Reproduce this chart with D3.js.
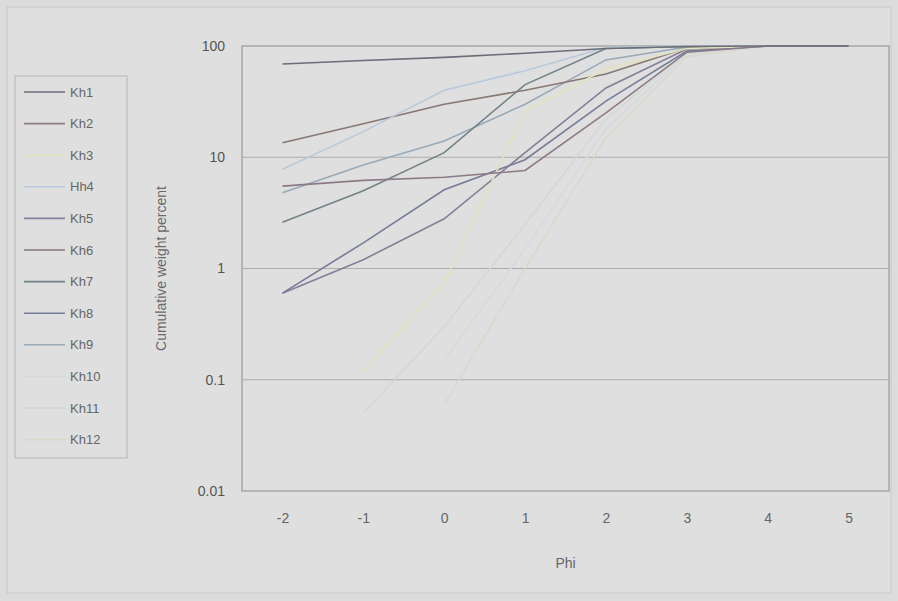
<!DOCTYPE html>
<html>
<head>
<meta charset="utf-8">
<script src="https://cdn.jsdelivr.net/npm/d3@7"></script>
<style>
  body { margin: 0; background: #dcdcdc; }
  text { font-family: "Liberation Sans", Arial, sans-serif; }
</style>
</head>
<body>
<div id="chart"></div>
<script>
/* Data */
var phi = ["-2", "-1", "0", "1", "2", "3", "4", "5"];
var yTicks = [0.01, 0.1, 1, 10, 100];
var yTickLabels = ["0.01", "0.1", "1", "10", "100"];
var names = ["Kh1", "Kh2", "Kh3", "Hh4", "Kh5", "Kh6", "Kh7", "Kh8", "Kh9", "Kh10", "Kh11", "Kh12"];

var kh1  = [69, 74, 79, 86, 95, 99, 100, 100];
var kh2  = [5.5, 6.2, 6.6, 7.6, 25, 88, 100, 100];
var kh3  = [null, 0.12, 0.75, 26, 62, 95, 100, 100];
var hh4  = [7.8, 17, 40, 60, 97, 100, 100, 100];
var kh5  = [0.6, 1.2, 2.8, 11, 42, 94, 100, 100];
var kh6  = [13.5, 20, 30, 40, 56, 96, 100, 100];
var kh7  = [2.6, 5, 11, 45, 95, 99, 100, 100];
var kh8  = [0.6, 1.7, 5.1, 9.5, 32, 90, 100, 100];
var kh9  = [4.8, 8.5, 14, 30, 75, 98, 100, 100];
var kh10 = [null, null, 0.15, 1.5, 18, 85, 100, 100];
var kh11 = [null, 0.05, 0.3, 2.5, 22, 88, 100, 100];
var kh12 = [null, null, 0.06, 1, 15, 80, 100, 100];

var seriesValues = [kh1, kh2, kh3, hh4, kh5, kh6, kh7, kh8, kh9, kh10, kh11, kh12];
var colors = ["#6a6e78", "#8c7a86", "#e2e4bc", "#b9c9dc", "#857e98", "#877874",
              "#728386", "#767c96", "#98a9b8", "#d5dbdc", "#d3d9d3", "#d9d9cc"];

var width = 898;
var height = 601;
var plot = {left: 242, right: 889, top: 46, bottom: 491};

var svg = d3.select("#chart").append("svg")
    .attr("width", width)
    .attr("height", height);

/* outer chart frame */
svg.append("rect")
    .attr("x", 7).attr("y", 7)
    .attr("width", 884).attr("height", 586)
    .attr("fill", "#dfdfdf")
    .attr("stroke", "#c8c8c8");

/* Scales */
var xScale = d3.scalePoint()
    .domain(phi)
    .range([plot.left, plot.right])
    .padding(0.5);

var yScale = d3.scaleLog()
    .domain([0.01, 100])
    .range([plot.bottom, plot.top]);

/* gridlines */
svg.append("g")
    .attr("class", "grid")
    .selectAll("line")
    .data(yTicks.slice(1, 4)).enter()
    .append("line")
    .attr("x1", plot.left).attr("x2", plot.right)
    .attr("y1", d => yScale(d)).attr("y2", d => yScale(d))
    .attr("stroke", "#adadad")
    .attr("stroke-width", 1);

/* plot border */
svg.append("rect")
    .attr("x", plot.left).attr("y", plot.top)
    .attr("width", plot.right - plot.left)
    .attr("height", plot.bottom - plot.top)
    .attr("fill", "none")
    .attr("stroke", "#a6a6a6")
    .attr("stroke-width", 1.5);

/* Axes */
var yAxis = d3.axisLeft(yScale)
    .tickValues(yTicks)
    .tickFormat((d, i) => yTickLabels[i])
    .tickSize(0)
    .tickPadding(17);

var xAxis = d3.axisBottom(xScale)
    .tickSize(0)
    .tickPadding(22);

var gy = svg.append("g")
    .attr("transform", `translate(${plot.left}, 0)`)
    .call(yAxis);
gy.select(".domain").remove();
gy.selectAll("text")
    .attr("font-size", "14px")
    .attr("fill", "#555");

var gx = svg.append("g")
    .attr("transform", `translate(0, ${plot.bottom})`)
    .call(xAxis);
gx.select(".domain").remove();
gx.selectAll("text")
    .attr("font-size", "14px")
    .attr("fill", "#666");

/* axis titles */
svg.append("text")
    .attr("x", (plot.left + plot.right) / 2)
    .attr("y", 568)
    .attr("text-anchor", "middle")
    .attr("font-size", "14px")
    .attr("fill", "#666")
    .text("Phi");

svg.append("text")
    .attr("transform", `translate(166, ${(plot.top + plot.bottom) / 2}) rotate(-90)`)
    .attr("text-anchor", "middle")
    .attr("font-size", "14px")
    .attr("fill", "#6a6a6a")
    .text("Cumulative weight percent");

/* Lines */
var data = names.map((n, i) => ({
    name: n,
    color: colors[i],
    values: phi.map((p, j) => ({phi: p, v: seriesValues[i][j]}))
}));

var line = d3.line()
    .defined(d => d.v != null)
    .x(d => xScale(d.phi))
    .y(d => yScale(d.v));

svg.append("g")
    .attr("class", "lines")
    .selectAll("path")
    .data(data.slice().reverse()).enter()
    .append("path")
    .attr("d", d => line(d.values))
    .attr("fill", "none")
    .attr("stroke", d => d.color)
    .attr("stroke-width", 1.6);

/* Legend */
var legend = svg.append("g").attr("class", "legend");

legend.append("rect")
    .attr("x", 15).attr("y", 76)
    .attr("width", 112).attr("height", 382)
    .attr("fill", "#dfdfdf")
    .attr("stroke", "#b5b5b5");

var items = legend.selectAll(".item")
    .data(data).enter()
    .append("g")
    .attr("class", "item")
    .attr("transform", (d, i) => `translate(0, ${92 + i * 31.6})`);

items.append("line")
    .attr("x1", 24).attr("x2", 65)
    .attr("stroke", d => d.color)
    .attr("stroke-width", 1.6);

items.append("text")
    .attr("x", 70)
    .attr("dy", "0.35em")
    .attr("font-size", "13px")
    .attr("fill", "#666")
    .text(d => d.name);
</script>
</body>
</html>
